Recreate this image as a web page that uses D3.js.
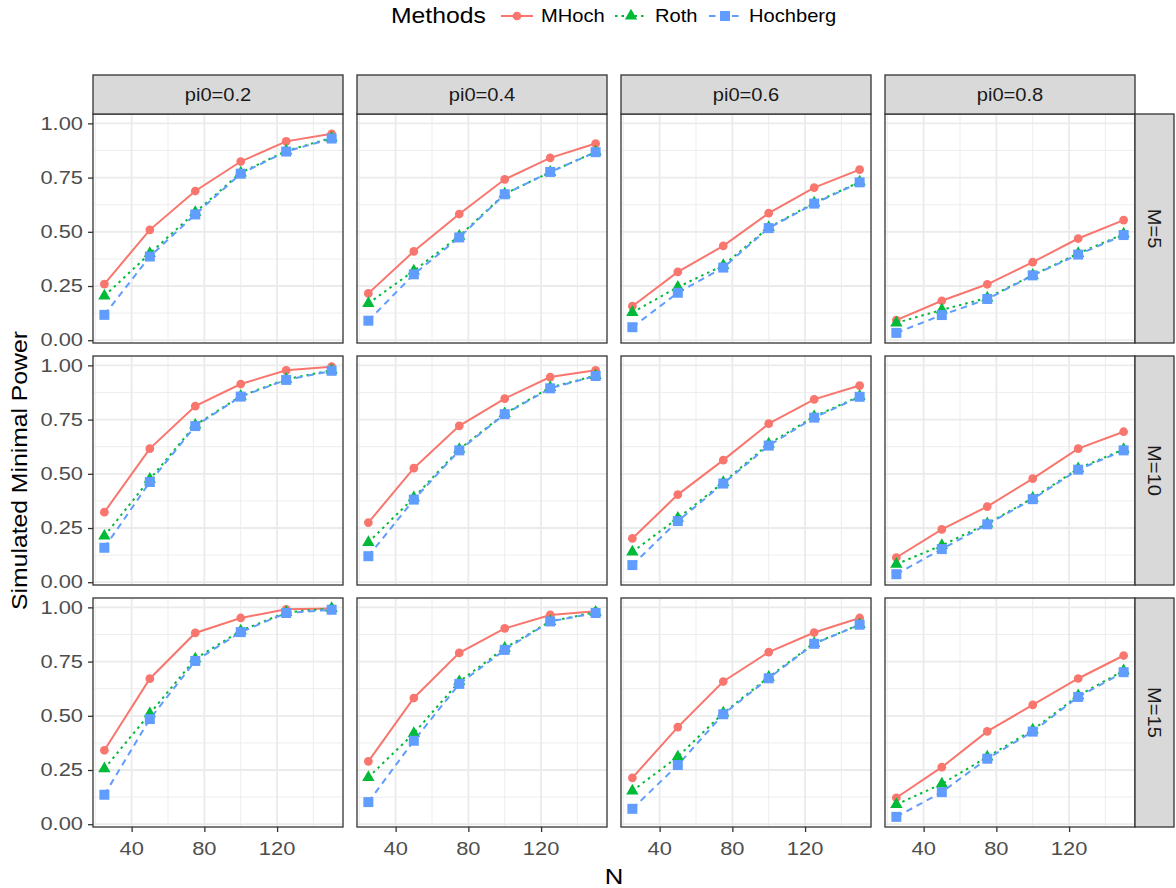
<!DOCTYPE html>
<html>
<head>
<meta charset="utf-8">
<script src="https://cdn.jsdelivr.net/npm/d3@7/dist/d3.min.js"></script>
<style>
  html, body { margin: 0; padding: 0; background: #fff; }
  svg { display: block; font-family: 'Liberation Sans', Arial, sans-serif; }
</style>
</head>
<body>
<svg id="chart" width="1176" height="888"></svg>
<script>
// ---- data ----
const N_VALUES   = [25, 50, 75, 100, 125, 150];
const PI0_LABELS = ['pi0=0.2', 'pi0=0.4', 'pi0=0.6', 'pi0=0.8'];
const M_LABELS   = ['M=5', 'M=10', 'M=15'];
const METHODS    = ['MHoch', 'Roth', 'Hochberg'];
const X_TICKS    = [40, 80, 120];
const Y_TICKS    = [0, 0.25, 0.5, 0.75, 1];

// rows = M, columns = pi0, values along N
const MHOCH = [
  [[0.259, 0.509, 0.688, 0.824, 0.917, 0.952],
   [0.216, 0.410, 0.582, 0.742, 0.841, 0.907],
   [0.157, 0.315, 0.435, 0.586, 0.704, 0.787],
   [0.093, 0.182, 0.258, 0.360, 0.469, 0.554]],
  [[0.323, 0.616, 0.812, 0.914, 0.977, 0.994],
   [0.275, 0.526, 0.721, 0.847, 0.946, 0.977],
   [0.202, 0.404, 0.563, 0.731, 0.843, 0.907],
   [0.114, 0.244, 0.349, 0.478, 0.616, 0.694]],
  [[0.341, 0.671, 0.882, 0.951, 0.991, 0.995],
   [0.290, 0.582, 0.790, 0.903, 0.965, 0.982],
   [0.214, 0.448, 0.658, 0.794, 0.884, 0.951],
   [0.122, 0.263, 0.428, 0.550, 0.672, 0.778]]
];
const ROTH = [
  [[0.204, 0.400, 0.590, 0.772, 0.873, 0.933],
   [0.170, 0.320, 0.480, 0.675, 0.775, 0.869],
   [0.128, 0.245, 0.345, 0.520, 0.633, 0.730],
   [0.080, 0.140, 0.195, 0.300, 0.400, 0.490]],
  [[0.213, 0.475, 0.725, 0.858, 0.936, 0.978],
   [0.184, 0.390, 0.613, 0.778, 0.898, 0.953],
   [0.140, 0.295, 0.460, 0.638, 0.764, 0.858],
   [0.083, 0.170, 0.270, 0.388, 0.524, 0.613]],
  [[0.256, 0.510, 0.763, 0.892, 0.977, 0.995],
   [0.216, 0.419, 0.658, 0.812, 0.935, 0.978],
   [0.154, 0.311, 0.513, 0.678, 0.834, 0.921],
   [0.091, 0.186, 0.310, 0.435, 0.593, 0.708]]
];
const HOCHBERG = [
  [[0.117, 0.386, 0.580, 0.768, 0.870, 0.930],
   [0.090, 0.304, 0.474, 0.673, 0.776, 0.867],
   [0.060, 0.219, 0.335, 0.517, 0.630, 0.728],
   [0.034, 0.116, 0.190, 0.299, 0.395, 0.485]],
  [[0.159, 0.462, 0.720, 0.856, 0.933, 0.975],
   [0.120, 0.381, 0.608, 0.775, 0.894, 0.951],
   [0.079, 0.282, 0.455, 0.630, 0.759, 0.855],
   [0.037, 0.153, 0.267, 0.383, 0.519, 0.608]],
  [[0.136, 0.485, 0.753, 0.886, 0.974, 0.989],
   [0.102, 0.385, 0.647, 0.804, 0.935, 0.974],
   [0.071, 0.273, 0.507, 0.673, 0.832, 0.920],
   [0.034, 0.148, 0.302, 0.427, 0.587, 0.701]]
];

// ---- look ----
const COLORS = { MHoch: '#F8766D', Roth: '#00BA38', Hochberg: '#619CFF' };
const DASHES = { MHoch: null, Roth: '2.5,4', Hochberg: '6.5,5' };
const SERIES = { MHoch: MHOCH, Roth: ROTH, Hochberg: HOCHBERG };
const GRID = '#EBEBEB', BORDER = '#333333', STRIP = '#D9D9D9';
const TICK_TXT = '#4D4D4D';
const SX = 1.17; // reference glyphs run wider than Liberation Sans

// layout
const PANEL_X0 = 93, PANEL_W = 250, GAP_X = 14;
const PANEL_Y0 = 114, PANEL_H = 229, GAP_Y = 13;
const STRIP_H = 39;

const svg = d3.select('#chart');

// text helper: positioned by transform so the horizontal stretch stays local
function label(parent, x, y, str, size, o = {}) {
  const rot = o.rotate ? ` rotate(${o.rotate})` : '';
  return parent.append('text')
    .attr('transform', `translate(${x},${y})${rot} scale(${o.sx || SX},1)`)
    .attr('text-anchor', o.anchor || 'middle')
    .attr('dominant-baseline', o.baseline || 'auto')
    .attr('font-size', size).attr('fill', o.fill || '#000')
    .text(str);
}

const x = d3.scaleLinear().domain([18.75, 156.25]).range([0, PANEL_W]);
const y = d3.scaleLinear().domain([-0.0128, 1.0432]).range([PANEL_H, 0]);

const line = d3.line().x(d => x(d[0])).y(d => y(d[1]));

const shapes = {
  MHoch: d3.symbol().type(d3.symbolCircle).size(60),
  Roth: d3.symbol().type(d3.symbolTriangle).size(66),
  Hochberg: d3.symbol().type(d3.symbolSquare).size(100)
};

M_LABELS.forEach((mLab, r) => {
  PI0_LABELS.forEach((pLab, c) => {
    const px = PANEL_X0 + c * (PANEL_W + GAP_X);
    const py = PANEL_Y0 + r * (PANEL_H + GAP_Y);
    const g = svg.append('g').attr('transform', `translate(${px},${py})`);

    g.append('rect').attr('width', PANEL_W).attr('height', PANEL_H).attr('fill', '#fff');

    // minor grid
    const xMinor = [20, 60, 100, 140];
    const yMinor = [0.125, 0.375, 0.625, 0.875];
    g.selectAll('.xminor').data(xMinor).join('line')
      .attr('x1', d => x(d)).attr('x2', d => x(d)).attr('y1', 0).attr('y2', PANEL_H)
      .attr('stroke', GRID).attr('stroke-width', 0.9);
    g.selectAll('.yminor').data(yMinor).join('line')
      .attr('y1', d => y(d)).attr('y2', d => y(d)).attr('x1', 0).attr('x2', PANEL_W)
      .attr('stroke', GRID).attr('stroke-width', 0.9);
    // major grid
    g.selectAll('.xmajor').data(X_TICKS).join('line')
      .attr('x1', d => x(d)).attr('x2', d => x(d)).attr('y1', 0).attr('y2', PANEL_H)
      .attr('stroke', GRID).attr('stroke-width', 1.8);
    g.selectAll('.ymajor').data(Y_TICKS).join('line')
      .attr('y1', d => y(d)).attr('y2', d => y(d)).attr('x1', 0).attr('x2', PANEL_W)
      .attr('stroke', GRID).attr('stroke-width', 1.8);

    // lines then points
    METHODS.forEach(m => {
      const pts = N_VALUES.map((n, i) => [n, SERIES[m][r][c][i]]);
      g.append('path').datum(pts)
        .attr('d', line).attr('fill', 'none')
        .attr('stroke', COLORS[m]).attr('stroke-width', 2)
        .attr('stroke-dasharray', DASHES[m]);
    });
    METHODS.forEach(m => {
      const pts = N_VALUES.map((n, i) => [n, SERIES[m][r][c][i]]);
      g.selectAll(null).data(pts).join('path')
        .attr('transform', d => `translate(${x(d[0])},${y(d[1])})`)
        .attr('d', shapes[m]()).attr('fill', COLORS[m]);
    });

    g.append('rect').attr('width', PANEL_W).attr('height', PANEL_H)
      .attr('fill', 'none').attr('stroke', BORDER).attr('stroke-width', 1.3);

    // top strip
    if (r === 0) {
      const s = svg.append('g').attr('transform', `translate(${px},${PANEL_Y0 - STRIP_H})`);
      s.append('rect').attr('width', PANEL_W).attr('height', STRIP_H)
        .attr('fill', STRIP).attr('stroke', BORDER).attr('stroke-width', 1.3);
      label(s, PANEL_W / 2, STRIP_H / 2, pLab, 17.5, { baseline: 'central', fill: '#1A1A1A', sx: 1.15 });
    }
    // right strip
    if (c === PI0_LABELS.length - 1) {
      const s = svg.append('g').attr('transform', `translate(${px + PANEL_W},${py})`);
      s.append('rect').attr('width', STRIP_H).attr('height', PANEL_H)
        .attr('fill', STRIP).attr('stroke', BORDER).attr('stroke-width', 1.3);
      label(s, STRIP_H / 2, PANEL_H / 2, mLab, 17.5,
        { baseline: 'central', fill: '#1A1A1A', rotate: 90, sx: 1.15 });
    }
    // y axis on first column
    if (c === 0) {
      const ax = g.append('g').call(d3.axisLeft(y).tickValues(Y_TICKS)
        .tickFormat('').tickSize(5));
      ax.select('.domain').remove();
      ax.selectAll('line').attr('stroke', BORDER).attr('stroke-width', 1.3);
      Y_TICKS.forEach(v => label(g, -10, y(v), d3.format('.2f')(v), 17.5,
        { anchor: 'end', baseline: 'central', fill: TICK_TXT, sx: 1.25 }));
    }
    // x axis on last row
    if (r === M_LABELS.length - 1) {
      const ax = g.append('g').attr('transform', `translate(0,${PANEL_H})`)
        .call(d3.axisBottom(x).tickValues(X_TICKS).tickFormat('').tickSize(5));
      ax.select('.domain').remove();
      ax.selectAll('line').attr('stroke', BORDER).attr('stroke-width', 1.3);
      X_TICKS.forEach(v => label(g, x(v), PANEL_H + 27.5, String(v), 17.5,
        { fill: TICK_TXT, sx: 1.25 }));
    }
  });
});

const panelsRight = PANEL_X0 + 4 * PANEL_W + 3 * GAP_X;
const panelsBottom = PANEL_Y0 + 3 * PANEL_H + 2 * GAP_Y;

// axis titles
label(svg, (PANEL_X0 + panelsRight) / 2, 884, 'N', 22);
label(svg, 27, (PANEL_Y0 + panelsBottom) / 2, 'Simulated Minimal Power', 21.5, { rotate: -90, sx: 1.15 });

// legend
const leg = svg.append('g').attr('transform', 'translate(391,16)');
label(leg, 0, 0, 'Methods', 21.5, { anchor: 'start', baseline: 'central', sx: 1.15 });
const keyX = [110, 224, 318];
METHODS.forEach((m, i) => {
  const k = leg.append('g').attr('transform', `translate(${keyX[i]},0)`);
  k.append('line').attr('x1', 0).attr('x2', 32).attr('y1', 0).attr('y2', 0)
    .attr('stroke', COLORS[m]).attr('stroke-width', 2)
    .attr('stroke-dasharray', DASHES[m]);
  k.append('path').attr('transform', 'translate(16,0)').attr('d', shapes[m]())
    .attr('fill', COLORS[m]);
  label(k, 40, 0, m, 17.5, { anchor: 'start', baseline: 'central', sx: 1.15 });
});
</script>
</body>
</html>
